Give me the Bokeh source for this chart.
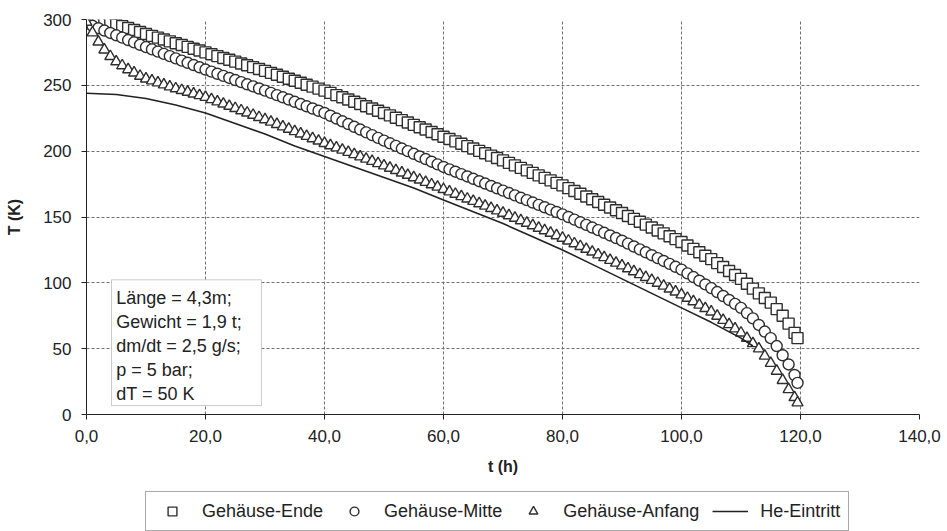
from bokeh.plotting import figure
from bokeh.layouts import column
from bokeh.models import Legend, LegendItem, Label, BoxAnnotation, FixedTicker
from bokeh.embed import file_html
from bokeh.resources import INLINE

# ---- data ----
t_h = list(range(0, 120)) + [119.5]

gehaeuse_ende = [
    300, 299.5, 299, 298, 297, 296, 295, 293.5, 292, 290.5,
    289, 287.6, 286.2, 284.8, 283.4, 282, 280.6, 279.2, 277.8, 276.4,
    275, 273.6, 272.2, 270.8, 269.4, 268, 266.6, 265.2, 263.8, 262.4,
    261, 259.5, 258, 256.5, 255, 253.5, 252, 250.5, 249, 247.5,
    246, 244.3, 242.6, 240.9, 239.2, 237.5, 235.8, 234.1, 232.4, 230.7,
    229, 227.2, 225.4, 223.6, 221.8, 220, 218.2, 216.4, 214.6, 212.8,
    211, 209.2, 207.4, 205.6, 203.8, 202, 200.2, 198.4, 196.6, 194.8,
    193, 191.1, 189.2, 187.3, 185.4, 183.5, 181.6, 179.7, 177.8, 175.9,
    174, 171.9, 169.8, 167.7, 165.6, 163.5, 161.4, 159.3, 157.2, 155.1,
    153, 150.8, 148.6, 146.4, 144.2, 142, 139.8, 137.6, 135.4, 133.2,
    131, 128.4, 125.8, 123.2, 120.6, 118, 115, 112, 109, 106,
    103, 99.3, 95.6, 92, 88.5, 85, 80, 75, 69, 62,
    58,
]

gehaeuse_mitte = [
    297, 295.2, 293.4, 291.6, 289.8, 288, 286.2, 284.4, 282.6, 280.8,
    279, 277.3, 275.6, 273.9, 272.2, 270.5, 268.8, 267.1, 265.4, 263.7,
    262, 260.4, 258.8, 257.2, 255.6, 254, 252.4, 250.8, 249.2, 247.6,
    246, 244.3, 242.6, 240.9, 239.2, 237.5, 235.8, 234.1, 232.4, 230.7,
    229, 226.9, 224.8, 222.7, 220.6, 218.5, 216.4, 214.3, 212.2, 210.1,
    208, 206, 204, 202, 200, 198, 196, 194, 192, 190,
    188, 186.2, 184.4, 182.6, 180.8, 179, 177.2, 175.4, 173.6, 171.8,
    170, 168.2, 166.4, 164.6, 162.8, 161, 159.2, 157.4, 155.6, 153.8,
    152, 150, 148, 146, 144, 142, 140, 138, 136, 134,
    132, 129.8, 127.6, 125.4, 123.2, 121, 118.8, 116.6, 114.4, 112.2,
    110, 107.2, 104.4, 101.6, 98.8, 96, 93, 90, 87, 84,
    81, 77, 73, 68, 63, 58, 52, 45, 38, 30,
    24,
]

gehaeuse_anfang = [
    298, 290, 283, 277, 272, 268, 265, 262, 259.5, 257,
    255, 253.5, 252, 250.5, 249, 247.5, 246.2, 244.9, 243.6, 242.3,
    241, 239.3, 237.6, 235.9, 234.2, 232.5, 230.8, 229.1, 227.4, 225.7,
    224, 222.2, 220.4, 218.6, 216.8, 215, 213.2, 211.4, 209.6, 207.8,
    206, 204.3, 202.6, 200.9, 199.2, 197.5, 195.8, 194.1, 192.4, 190.7,
    189, 187.2, 185.4, 183.6, 181.8, 180, 178.2, 176.4, 174.6, 172.8,
    171, 169.2, 167.4, 165.6, 163.8, 162, 160.2, 158.4, 156.6, 154.8,
    153, 151.1, 149.2, 147.3, 145.4, 143.5, 141.6, 139.7, 137.8, 135.9,
    134, 131.9, 129.8, 127.7, 125.6, 123.5, 121.4, 119.3, 117.2, 115.1,
    113, 110.8, 108.6, 106.4, 104.2, 102, 99.8, 97.6, 95.4, 93.2,
    91, 88.4, 85.8, 83.2, 80.6, 78, 74.8, 71.6, 68.4, 65.2,
    62, 58, 54, 50, 44.5, 39, 33, 26, 19, 13,
    9,
]

he_t = [0, 5, 10, 15, 20, 25, 30, 35, 40, 45, 50, 55, 60, 65, 70, 75,
        80, 85, 90, 95, 100, 105, 110, 112]
he_eintritt = [244, 243, 240, 235, 229, 221, 213, 204, 196, 188, 180, 172,
               163, 154, 145, 135, 125, 114, 103, 92, 81, 70, 58, 52]

x_ticks = [0, 20, 40, 60, 80, 100, 120, 140]
x_tick_labels = ["0,0", "20,0", "40,0", "60,0", "80,0", "100,0", "120,0", "140,0"]
y_ticks = [0, 50, 100, 150, 200, 250, 300]
y_tick_labels = ["0", "50", "100", "150", "200", "250", "300"]

info_lines = ["Länge = 4,3m;", "Gewicht = 1,9 t;", "dm/dt = 2,5 g/s;",
              "p = 5 bar;", "dT = 50 K"]
legend_labels = ["Gehäuse-Ende", "Gehäuse-Mitte", "Gehäuse-Anfang", "He-Eintritt"]

FONT = "Liberation Sans"
DARK = "#2e2e2e"

p = figure(width=947, height=487, x_range=(0, 140), y_range=(0, 300),
           output_backend="svg", toolbar_location=None,
           min_border_left=86, min_border_top=19, min_border_right=28,
           min_border_bottom=73)
p.outline_line_color = None
p.background_fill_color = "white"

for g in (p.xgrid, p.ygrid):
    g.grid_line_color = "#707070"
    g.grid_line_dash = "3 2"
    g.grid_line_width = 1

p.xaxis.ticker = FixedTicker(ticks=x_ticks)
p.xaxis.major_label_overrides = dict(zip(x_ticks, x_tick_labels))
p.yaxis.ticker = FixedTicker(ticks=y_ticks)
p.yaxis.major_label_overrides = dict(zip(y_ticks, y_tick_labels))
for ax in (p.xaxis, p.yaxis):
    ax.axis_line_color = "#222222"
    ax.major_tick_line_color = "#222222"
    ax.major_tick_out = 5
    ax.major_tick_in = 0
    ax.minor_tick_line_color = None
    ax.major_label_text_font = FONT
    ax.major_label_text_font_size = "17px"
    ax.major_label_text_color = "#222222"
    ax.axis_label_text_font = FONT
    ax.axis_label_text_font_size = "16px"
    ax.axis_label_text_font_style = "bold"
    ax.axis_label_text_color = "#222222"
p.xaxis.major_label_standoff = 10
p.yaxis.major_label_standoff = 10
p.xaxis.axis_label = "t (h)"
p.yaxis.axis_label = "T (K)"
p.xaxis.axis_label_standoff = 13
p.yaxis.axis_label_standoff = 17

mk = dict(size=11, fill_color="white", line_color=DARK, line_width=1.4)
p.scatter(t_h, gehaeuse_ende, marker="square", **mk)
p.scatter(t_h, gehaeuse_mitte, marker="circle", **mk)
p.scatter(t_h, gehaeuse_anfang, marker="triangle", **mk)
p.line(he_t, he_eintritt, line_color="#222222", line_width=1.6)

box = BoxAnnotation(left=4.2, right=29.4, bottom=6.8, top=102.3,
                    fill_color="white", fill_alpha=1.0,
                    line_color="#555555", line_width=1)
p.add_layout(box)
baselines = [88.6, 70.5, 52.3, 34.1, 15.9]
for txt, yb in zip(info_lines, baselines):
    p.add_layout(Label(x=5.0, y=yb, text=txt, text_font=FONT,
                       text_font_size="18px", text_color="#222222",
                       text_baseline="alphabetic"))

# ---- legend strip (separate figure below; same data kept out of view) ----
q = figure(width=947, height=44, x_range=(-300, -200), y_range=(-300, -200),
           output_backend="svg", toolbar_location=None,
           x_axis_location=None, y_axis_location=None,
           min_border=0, min_border_left=86, min_border_right=28,
           min_border_top=0, min_border_bottom=0)
q.outline_line_color = None
q.grid.visible = False
g1 = q.scatter(t_h, gehaeuse_ende, marker="square", **mk)
g2 = q.scatter(t_h, gehaeuse_mitte, marker="circle", **mk)
g3 = q.scatter(t_h, gehaeuse_anfang, marker="triangle", **mk)
g4 = q.line(he_t, he_eintritt, line_color="#222222", line_width=1.6)

legend = Legend(items=[LegendItem(label=lab, renderers=[r])
                       for lab, r in zip(legend_labels, [g1, g2, g3, g4])],
                orientation="horizontal", location=(59, 0))
legend.label_text_font = FONT
legend.label_text_font_size = "18px"
legend.label_text_color = "#222222"
legend.glyph_width = 36
legend.glyph_height = 22
legend.label_standoff = 12
legend.spacing = 13
legend.padding = 8
legend.margin = 0
legend.border_line_color = "#555555"
legend.border_line_width = 1
legend.background_fill_color = "white"
legend.background_fill_alpha = 1.0
q.add_layout(legend, "center")

layout = column(p, q, spacing=0)
open("out.html", "w").write(file_html(layout, INLINE))
